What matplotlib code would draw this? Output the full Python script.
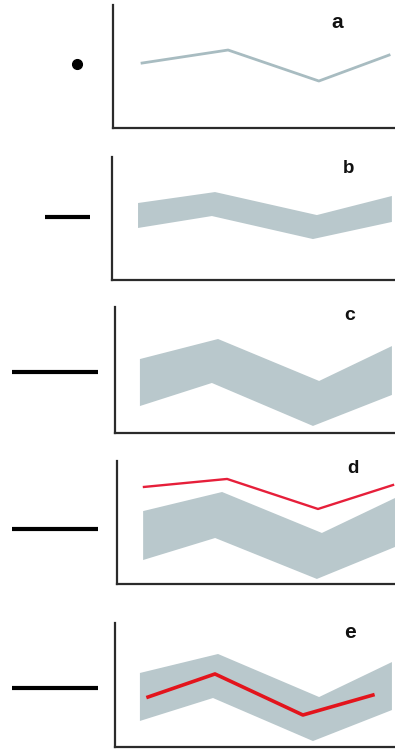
import matplotlib
matplotlib.use("Agg")
import matplotlib.pyplot as plt

W, H = 395, 751
BAND = "#b9c8cc"
LINE_GREY = "#a8bcc1"
RED_D = "#e61f3a"
RED_E = "#e3141c"

# panel frames (pixel estimates of spines): left x, top y, bottom y
frames = {
    "a": (113, 5, 128),
    "b": (112, 157, 280),
    "c": (115, 307, 433),
    "d": (117, 461, 584),
    "e": (115, 623, 747),
}

# panel a: single grey line
a_x = [10.3, 40.8, 73.0, 97.9]
a_y = [52.8, 63.4, 38.2, 59.3]

# panel b: narrow band
b_up_x = [9.2, 36.4, 72.4, 98.9]
b_up_y = [62.6, 71.5, 52.8, 68.3]
b_lo_x = [9.2, 35.3, 71.0, 98.9]
b_lo_y = [42.3, 52.0, 33.3, 47.2]

# panel c: wide band
c_up_x = [8.9, 36.8, 72.9, 98.9]
c_up_y = [58.7, 74.6, 41.3, 69.0]
c_lo_x = [8.9, 34.6, 70.7, 98.9]
c_lo_y = [21.4, 39.7, 5.6, 30.2]

# panel d: band + red line above
d_up_x = [9.4, 37.8, 73.7, 100.0]
d_up_y = [59.3, 74.8, 41.5, 69.9]
d_lo_x = [9.4, 35.3, 71.9, 100.0]
d_lo_y = [19.5, 37.4, 4.1, 30.1]
d_red_x = [9.7, 39.6, 72.3, 99.3]
d_red_y = [78.9, 85.4, 61.0, 80.5]

# panel e: band + red line inside
e_up_x = [8.9, 36.8, 72.9, 98.9]
e_up_y = [59.7, 75.0, 40.3, 68.5]
e_lo_x = [8.9, 35.0, 70.7, 98.9]
e_lo_y = [21.0, 39.5, 4.8, 29.8]
e_red_x = [11.8, 35.7, 67.1, 92.1]
e_red_y = [40.3, 58.9, 25.8, 41.9]

# left-hand symbol: (x start, x end, y) in axes-percent units; None end -> dot
sym = {
    "a": (-12.8, None, 52.0),
    "b": (-23.7, -7.8, 51.2),
    "c": (-36.8, -6.1, 48.4),
    "d": (-37.8, -6.8, 44.7),
    "e": (-36.8, -6.1, 47.6),
}
label_pos = {
    "a": (79.4, 86.0),
    "b": (83.7, 90.5),
    "c": (83.9, 93.5),
    "d": (84.9, 93.5),
    "e": (83.9, 92.0),
}
label_size = {"a": 15, "b": 13.5, "c": 14, "d": 13.5, "e": 15}

fig = plt.figure(figsize=(W / 100, H / 100), dpi=100)
fig.patch.set_facecolor("white")

axes = {}
for k, (x0, top, bot) in frames.items():
    ax = fig.add_axes([x0 / W, 1 - bot / H, (W - x0) / W, (bot - top) / H])
    ax.set_xlim(0, 100)
    ax.set_ylim(0, 100)
    ax.set_xticks([])
    ax.set_yticks([])
    for s in ("top", "right"):
        ax.spines[s].set_visible(False)
    for s in ("left", "bottom"):
        ax.spines[s].set_color("#2b2b2b")
        ax.spines[s].set_linewidth(1.6)
    ax.patch.set_alpha(0)
    axes[k] = ax


def band(ax, ux, uy, lx, ly):
    ax.fill(list(ux) + list(lx)[::-1], list(uy) + list(ly)[::-1],
            color=BAND, lw=0, clip_on=False)


axes["a"].plot(a_x, a_y, color=LINE_GREY, lw=2.0, clip_on=False)
band(axes["b"], b_up_x, b_up_y, b_lo_x, b_lo_y)
band(axes["c"], c_up_x, c_up_y, c_lo_x, c_lo_y)
band(axes["d"], d_up_x, d_up_y, d_lo_x, d_lo_y)
axes["d"].plot(d_red_x, d_red_y, color=RED_D, lw=1.7, clip_on=False)
band(axes["e"], e_up_x, e_up_y, e_lo_x, e_lo_y)
axes["e"].plot(e_red_x, e_red_y, color=RED_E, lw=2.6, clip_on=False)

for k, ax in axes.items():
    xs, xe, y = sym[k]
    if xe is None:
        ax.plot([xs], [y], "o", color="black", ms=7, clip_on=False)
    else:
        ax.plot([xs, xe], [y, y], color="black", lw=3.0,
                solid_capstyle="butt", clip_on=False)
    lx, ly = label_pos[k]
    ax.text(lx, ly, k, ha="center", va="center", fontsize=label_size[k],
            fontweight="bold", family="Liberation Sans", color="#111111")

fig.savefig("out.png", dpi=100, facecolor="white")
